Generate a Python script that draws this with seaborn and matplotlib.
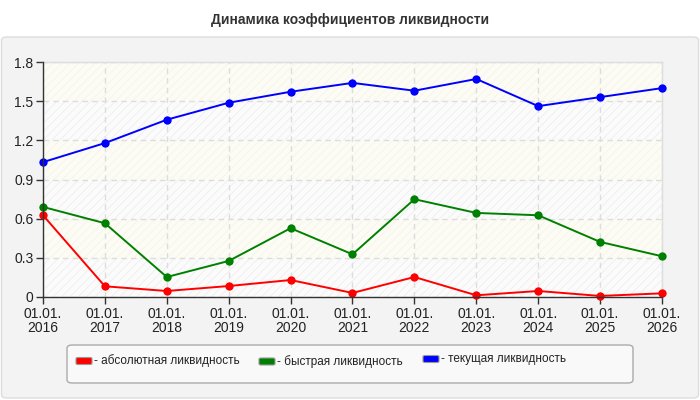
import matplotlib
matplotlib.use("Agg")
import matplotlib.pyplot as plt
from matplotlib.patches import FancyBboxPatch, Rectangle
import seaborn as sns
import pandas as pd

# ---- data ----
years = ["2016", "2017", "2018", "2019", "2020", "2021", "2022", "2023", "2024", "2025", "2026"]
tick_labels = ["01.01.\n" + y for y in years]
absolute_liq = [0.626, 0.082, 0.046, 0.084, 0.130, 0.031, 0.153, 0.013, 0.046, 0.008, 0.028]
quick_liq = [0.690, 0.565, 0.153, 0.276, 0.527, 0.327, 0.749, 0.644, 0.626, 0.422, 0.312]
current_liq = [1.033, 1.179, 1.358, 1.488, 1.572, 1.640, 1.580, 1.670, 1.462, 1.531, 1.600]
series_names = ["абсолютная ликвидность", "быстрая ликвидность", "текущая ликвидность"]
series_colors = ["#ff0000", "#008000", "#0000ff"]
title = "Динамика коэффициентов ликвидности"
y_ticks = [0, 0.3, 0.6, 0.9, 1.2, 1.5, 1.8]
y_tick_labels = ["0", "0.3", "0.6", "0.9", "1.2", "1.5", "1.8"]

rows = []
for name, vals in zip(series_names, [absolute_liq, quick_liq, current_liq]):
    for i, v in enumerate(vals):
        rows.append({"pos": i, "value": v, "series": name})
df = pd.DataFrame(rows)

sns.set_theme(style="white")
plt.rcParams["font.family"] = ["Liberation Sans", "DejaVu Sans"]
plt.rcParams["hatch.linewidth"] = 0.5

fig = plt.figure(figsize=(7, 4), dpi=100)
fig.patch.set_facecolor("white")

# outer panel
panel = FancyBboxPatch((1.5 / 700, 1 - 398 / 400), 697 / 700, 361 / 400,
                       boxstyle="round,pad=0,rounding_size=0.008",
                       transform=fig.transFigure, facecolor="#f3f3f3",
                       edgecolor="#dddddd", linewidth=1, zorder=-5)
fig.patches.append(panel)

fig.text(0.5, 1 - 20 / 400, title, ha="center", va="center",
         fontsize=10, fontweight="bold", color="#333333")

ax = fig.add_axes([43 / 700, 1 - 297 / 400, (662 - 43) / 700, (297 - 62) / 400])
ax.set_zorder(2)
ax.set_facecolor("#fdfdf8")

# alternating background bands
for k in range(len(y_ticks) - 1):
    lo, hi = y_ticks[k], y_ticks[k + 1]
    if k % 2 == 0:
        ax.axhspan(lo, hi, facecolor="#fbfbfb", edgecolor="#ececec", hatch="////", lw=0, zorder=0)
    else:
        ax.axhspan(lo, hi, facecolor="#fcfcf4", edgecolor="#f3f3ea", hatch="////", lw=0, zorder=0)

sns.lineplot(data=df, x="pos", y="value", hue="series", palette=series_colors,
             hue_order=series_names, marker="o", markersize=6, markeredgewidth=0,
             linewidth=1.4, legend=False, ax=ax, zorder=3)
for ln in ax.lines:
    ln.set_clip_on(False)

ax.set_xlim(0, len(years) - 1)
ax.set_ylim(0, 1.8)
ax.set_xticks(range(len(years)))
ax.set_xticklabels(tick_labels, fontsize=10, color="#222222", linespacing=1.0)
ax.set_yticks(y_ticks)
ax.set_yticklabels(y_tick_labels, fontsize=10, color="#222222")
ax.set_xlabel("")
ax.set_ylabel("")
ax.grid(True, color="#dddddd", linestyle=(0, (4, 3)), linewidth=1, zorder=1)
ax.set_axisbelow(True)
ax.tick_params(axis="both", which="both", length=5, width=1, color="#333333",
               direction="out", pad=2, left=True, bottom=True)
for s in ["left", "bottom"]:
    ax.spines[s].set_color("#333333")
    ax.spines[s].set_linewidth(1)
    ax.spines[s].set_zorder(4)
for s in ["top", "right"]:
    ax.spines[s].set_color("#dddddd")
    ax.spines[s].set_linewidth(1)

# legend
W, H = 700, 400
leg = FancyBboxPatch((67 / W, 1 - 383 / H), 566 / W, 38 / H,
                     boxstyle="round,pad=0,rounding_size=0.008",
                     transform=fig.transFigure, facecolor="#f9f9f9",
                     edgecolor="#aaaaaa", linewidth=1, zorder=1)
fig.patches.append(leg)
patch_x = [76, 259, 423]
patch_y = [361, 361.5, 359]
for px, py, name, col in zip(patch_x, patch_y, series_names, series_colors):
    p = FancyBboxPatch((px / W, 1 - (py + 3.5) / H), 16 / W, 7 / H,
                       boxstyle="round,pad=0,rounding_size=0.003",
                       transform=fig.transFigure, facecolor=col,
                       edgecolor="#999999", linewidth=0.8, zorder=2)
    fig.patches.append(p)
    fig.text((px + 18) / W, 1 - py / H, "- " + name, ha="left", va="center",
             fontsize=8.5, color="#222222", zorder=3)

fig.savefig("out.png", dpi=100, facecolor="white")
